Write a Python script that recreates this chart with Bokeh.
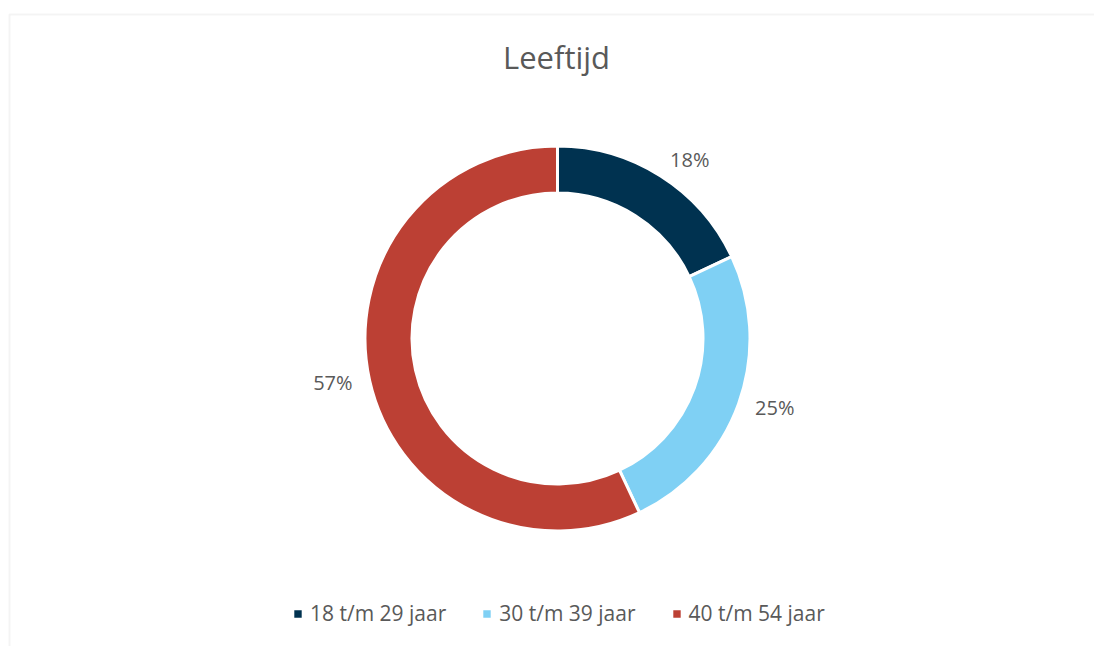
import math
from bokeh.plotting import figure
from bokeh.models import ColumnDataSource, Range1d, Legend, LegendItem, BoxAnnotation
from bokeh.core.properties import value
from bokeh.embed import file_html
from bokeh.resources import INLINE

# ---- data ----
title_text = "Leeftijd"
categories = ["18 t/m 29 jaar", "30 t/m 39 jaar", "40 t/m 54 jaar"]
percentages = [18, 25, 57]
colors = ["#003250", "#7FD0F4", "#BC4034"]

# ---- layout ----
W, H = 1094, 646
CX, CY = 557, 308          # donut centre (data units = pixels)
R_OUT, R_IN = 192.5, 145.5
R_LABEL = 210
FONT = "Open Sans"
TEXT_COLOR = "#595959"

total = float(sum(percentages))
starts, ends, lx, ly, labels, aligns = [], [], [], [], [], []
cum = 0.0
for v in percentages:
    a0 = math.pi / 2 - 2 * math.pi * cum / total
    a1 = math.pi / 2 - 2 * math.pi * (cum + v) / total
    mid = math.pi / 2 - 2 * math.pi * (cum + v / 2.0) / total
    starts.append(a0)
    ends.append(a1)
    lx.append(CX + R_LABEL * math.cos(mid))
    ly.append(CY + R_LABEL * math.sin(mid) + 2)
    aligns.append("left" if math.cos(mid) >= 0 else "right")
    labels.append(f"{v}%")
    cum += v

src = ColumnDataSource(dict(start=starts, end=ends, color=colors, cat=categories,
                            lx=lx, ly=ly, label=labels, align=aligns))

p = figure(width=W, height=H, output_backend="svg", toolbar_location=None,
           x_range=Range1d(0, W), y_range=Range1d(0, H),
           x_axis_type=None, y_axis_type=None, min_border=0)
p.grid.visible = False
p.outline_line_color = None
p.background_fill_color = "white"
p.border_fill_color = "white"

# chart-area border (only top and left edges visible in the crop)
p.add_layout(BoxAnnotation(left=9, right=W + 50, top=H - 14, bottom=-50,
                           fill_color=None, line_color="#D9D9D9", line_width=2))

wedges = p.annular_wedge(x=CX, y=CY, inner_radius=R_IN, outer_radius=R_OUT,
                         start_angle="start", end_angle="end", direction="clock",
                         fill_color="color", line_color="white", line_width=3,
                         source=src)

p.text(x="lx", y="ly", text="label", source=src, text_align="align",
       text_baseline="middle", text_font=value(FONT), text_font_size="20px",
       text_color=TEXT_COLOR)

p.text(x=[CX - 1], y=[H - 56], text=[title_text], text_align="center",
       text_baseline="alphabetic", text_font=value(FONT), text_font_size="31px",
       text_color=TEXT_COLOR)

items = [LegendItem(label=c, renderers=[wedges], index=i) for i, c in enumerate(categories)]
legend = Legend(items=items, orientation="horizontal", location=(291, 19),
                glyph_width=13, glyph_height=13, label_standoff=6, spacing=34,
                padding=0, margin=0, border_line_color=None, background_fill_alpha=0,
                label_text_font=FONT, label_text_font_size="21px",
                label_text_color=TEXT_COLOR)
p.add_layout(legend)

open("out.html", "w").write(file_html(p, INLINE))
